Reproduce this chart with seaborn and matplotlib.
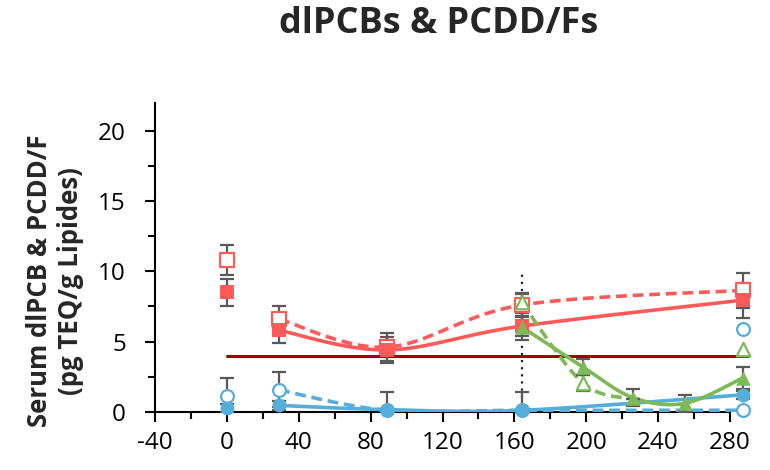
import numpy as np
import pandas as pd
import matplotlib
matplotlib.use("Agg")
import matplotlib.pyplot as plt
from matplotlib.patches import Rectangle
import seaborn as sns

# ---------------- data ----------------
days5 = [0, 29, 89, 164, 287]
red_filled = [8.5, 5.8, 4.4, 6.1, 7.95]
red_filled_err = [0.95, 0.9, 0.9, 0.7, 1.25]
red_open = [10.8, 6.6, 4.6, 7.6, 8.65]
red_open_err = [1.05, 0.9, 1.0, 0.85, 1.25]
blue_filled = [0.25, 0.45, 0.15, 0.1, 1.2]
blue_filled_err = [0.3, 0.3, 1.25, 1.3, 0.3]
blue_open = [1.15, 1.55, 0.1, 0.1, 0.1]
blue_open_err = [1.25, 1.25, 0.0, 0.0, 0.0]

green_days = [164, 198, 226, 255, 287]
green_filled = [6.05, 3.2, 1.0, 0.6, 2.4]
green_filled_err = [0.95, 0.55, 0.6, 0.6, 0.8]
green_open_days = [164, 198, 226]
green_open = [7.8, 2.05, 0.9]
green_open_err = [0.6, 0.55, 0.0]

extra_blue_open = (287, 5.9)
extra_green_open = (287, 4.45)

threshold = 4
threshold_span = (0, 290)
vline_day = 164
vline_top = 10

title = "dlPCBs & PCDD/Fs"
ylabel = "Serum dlPCB & PCDD/F\n(pg TEQ/g Lipides)"

RED = "#FF5A5A"
BLUE = "#55ADDB"
GREEN = "#7DB956"
DARKRED = "#A00000"
ERR = "#595959"


def smooth(x, y, n=40):
    P = np.column_stack([x, y]).astype(float)
    out = [P[0]]
    for i in range(len(P) - 1):
        p0 = P[i - 1] if i > 0 else P[i]
        p1, p2 = P[i], P[i + 1]
        p3 = P[i + 2] if i + 2 < len(P) else P[i + 1]
        c1 = p1 + (p2 - p0) / 6
        c2 = p2 - (p3 - p1) / 6
        t = np.linspace(0, 1, n)[1:, None]
        b = ((1 - t) ** 3) * p1 + 3 * ((1 - t) ** 2) * t * c1 + 3 * (1 - t) * t ** 2 * c2 + t ** 3 * p2
        out.extend(b)
    out = np.array(out)
    return pd.DataFrame({"x": out[:, 0], "y": out[:, 1]})


sns.set_style("white")
plt.rcParams["font.family"] = ["Open Sans", "DejaVu Sans"]
plt.rcParams["axes.unicode_minus"] = False

fig = plt.figure(figsize=(7.7, 4.7), dpi=100)
ax = fig.add_axes([155 / 770, 1 - 411.7 / 470, 575 / 770, (411.7 - 103) / 470])

# clip region: above the x axis, extending past the right end of the axis
clip_box = Rectangle((-0.05, 0.0), 1.2, 1.1, transform=ax.transAxes,
                     facecolor="none", edgecolor="none")
ax.add_patch(clip_box)

# threshold and vertical line
ax.plot(list(threshold_span), [threshold, threshold], color=DARKRED, lw=2.2,
        zorder=2, clip_on=False)
ax.plot([vline_day, vline_day], [0, vline_top], color="#1C1C4A", lw=1.6,
        ls=(0, (1, 2.2)), zorder=2)

# smoothed lines (start from second time point)
DASH = (0, (3, 1.6))
lines = [
    (days5[1:], red_filled[1:], RED, "-"),
    (days5[1:], red_open[1:], RED, DASH),
    (days5[1:], blue_filled[1:], BLUE, "-"),
    (days5[1:], blue_open[1:], BLUE, DASH),
    (green_days, green_filled, GREEN, "-"),
    (green_open_days, green_open, GREEN, DASH),
]
for x, y, c, ls in lines:
    df = smooth(x, y)
    sns.lineplot(data=df, x="x", y="y", sort=False, estimator=None, ax=ax,
                 color=c, lw=2.6, linestyle=ls, zorder=3)
for ln in ax.lines[2:]:
    ln.set_clip_path(clip_box)

# error bars
errs = [
    (days5, red_open, red_open_err),
    (days5, red_filled, red_filled_err),
    (days5, blue_open, blue_open_err),
    (days5, blue_filled, blue_filled_err),
    (green_days, green_filled, green_filled_err),
    (green_open_days, green_open, green_open_err),
]
for x, y, e in errs:
    eb = ax.errorbar(x, y, yerr=e, fmt="none", ecolor=ERR, elinewidth=1.6,
                     capsize=4.8, capthick=1.6, zorder=4)
    for art in list(eb.lines[1]) + list(eb.lines[2]):
        art.set_clip_path(clip_box)


def pts(x, y):
    return pd.DataFrame({"x": x, "y": y})


kw = dict(ax=ax, clip_on=False, legend=False)
sns.scatterplot(data=pts(days5, red_open), x="x", y="y", marker="s", s=90,
                facecolor="white", edgecolor=RED, linewidth=1.6, zorder=5, **kw)
sns.scatterplot(data=pts(days5, red_filled), x="x", y="y", marker="s", s=95,
                color=RED, edgecolor=RED, linewidth=0, zorder=6, **kw)
sns.scatterplot(data=pts(days5 + [extra_blue_open[0]], blue_open + [extra_blue_open[1]]),
                x="x", y="y", marker="o", s=85,
                facecolor="white", edgecolor=BLUE, linewidth=1.6, zorder=5, **kw)
sns.scatterplot(data=pts(days5, blue_filled), x="x", y="y", marker="o", s=100,
                color=BLUE, edgecolor=BLUE, linewidth=0, zorder=6, **kw)
sns.scatterplot(data=pts(green_open_days[:2] + [extra_green_open[0]],
                         green_open[:2] + [extra_green_open[1]]),
                x="x", y="y", marker="^", s=95,
                facecolor="white", edgecolor=GREEN, linewidth=1.6, zorder=5, **kw)
sns.scatterplot(data=pts(green_days, green_filled), x="x", y="y", marker="^", s=110,
                color=GREEN, edgecolor=GREEN, linewidth=0, zorder=6, **kw)

# axes styling
ax.set_xlim(-40, 280)
ax.set_ylim(0, 22)
ax.set_xticks(np.arange(-40, 281, 40))
ax.set_xticks(np.arange(-20, 281, 40), minor=True)
ax.set_yticks([0, 5, 10, 15, 20])
ax.set_yticks([2.5, 7.5, 12.5, 17.5], minor=True)
for s in ["top", "right"]:
    ax.spines[s].set_visible(False)
for s in ["left", "bottom"]:
    ax.spines[s].set_color("black")
    ax.spines[s].set_linewidth(1.5)
ax.tick_params(axis="both", which="major", direction="out", length=7, width=1.5,
               color="black", labelsize=17.5, labelcolor="black", bottom=True, left=True)
ax.tick_params(axis="both", which="minor", direction="out", length=5, width=1.5,
               color="black", bottom=True, left=True)
ax.tick_params(axis="x", which="major", pad=7)
ax.tick_params(axis="y", which="major", pad=14)
ax.set_xlabel("")
ax.set_ylabel("")

fig.text(55 / 770, 1 - 281 / 470, ylabel, rotation=90, ha="center", va="center",
         multialignment="center", fontsize=18.5, fontweight="bold", linespacing=1.15)
fig.text(439 / 770, 1 - 24 / 470, title, ha="center", va="center",
         fontsize=26, fontweight="bold")

fig.savefig("out.png", dpi=100)
